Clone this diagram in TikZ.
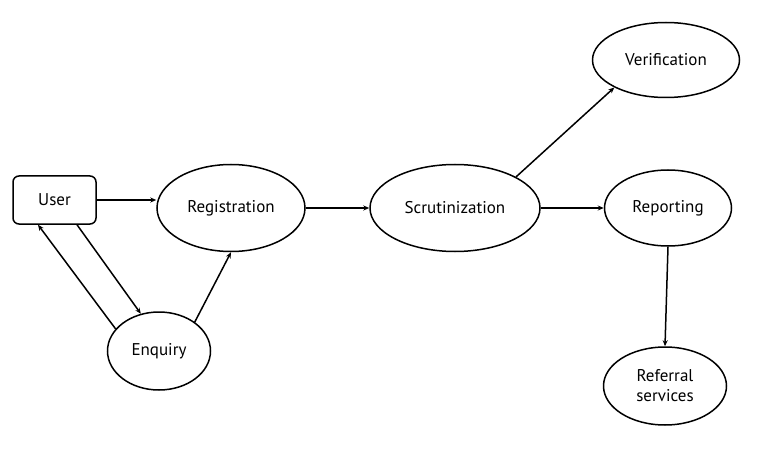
\documentclass[tikz,border=0pt]{standalone}
\usepackage{fontspec}
\setmainfont{PT Sans}
\usetikzlibrary{shapes.geometric,arrows.meta,calc}
\begin{document}
\begin{tikzpicture}[x=1pt,y=-1pt,
  every node/.style={font=\fontsize{17}{20}\selectfont, align=center, inner sep=0pt, line width=1.5pt, draw=black},
  oval/.style={ellipse},
  box/.style={rectangle, rounded corners=6pt},
  conn/.style={line width=1.5pt, -{Stealth[length=6pt,width=5pt]}}]
\useasboundingbox (0,0) rectangle (765,449);
\node[box, minimum width=83pt, minimum height=48pt] (user) at (54.5,200) {User};
\node[oval, minimum width=148pt, minimum height=87pt] (reg) at (231,208) {Registration};
\node[oval, minimum width=170pt, minimum height=87pt] (scr) at (455,208) {Scrutinization};
\node[oval, minimum width=147pt, minimum height=75pt] (ver) at (666,60) {Verification};
\node[oval, minimum width=127pt, minimum height=76pt] (rep) at (668,208) {Reporting};
\node[oval, minimum width=123pt, minimum height=78pt] (ref) at (665,386) {Referral\\services};
\node[oval, minimum width=103pt, minimum height=78pt] (enq) at (159,351) {Enquiry};
\draw[conn] (user.east) -- (reg.west |- user.east);
\draw[conn] ([xshift=22.5pt]user.south) -- (enq.116);
\draw[conn] (enq.153) -- ([xshift=-16.5pt]user.south);
\draw[conn] (enq.39) -- (reg.south);
\draw[conn] (reg.east) -- (scr.west);
\draw[conn] (scr.27) -- (ver.208);
\draw[conn] (scr.east) -- (rep.west);
\draw[conn] (rep.south) -- (ref.north);
\end{tikzpicture}
\end{document}
